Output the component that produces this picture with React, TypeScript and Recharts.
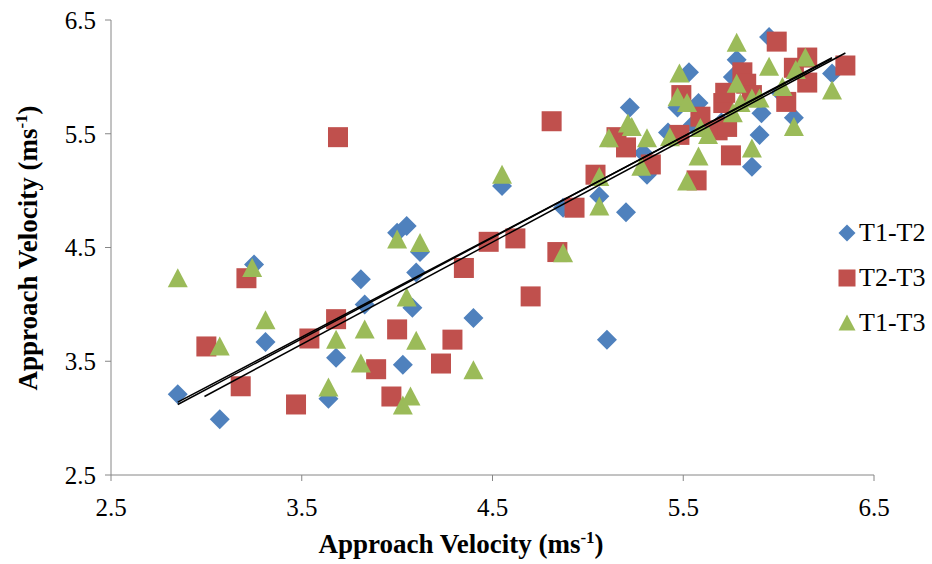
import { ScatterChart, Scatter, XAxis, YAxis, Legend } from 'recharts';

const axisTicks = [2.5, 3.5, 4.5, 5.5, 6.5];

const t1t2X = [2.85, 3.07, 3.25, 3.31, 3.64, 3.68, 3.81, 3.83, 4.0, 4.05, 4.03, 4.08, 4.1, 4.12, 4.4, 4.55, 4.87, 5.06, 5.1, 5.2, 5.22, 5.29, 5.31, 5.42, 5.47, 5.53, 5.58, 5.63, 5.76, 5.78, 5.86, 5.9, 5.91, 5.95, 6.01, 6.08, 6.28, 5.55, 5.7];
const t1t2Y = [3.21, 2.99, 4.35, 3.67, 3.17, 3.53, 4.22, 4.0, 4.63, 4.69, 3.47, 3.97, 4.28, 4.46, 3.88, 5.04, 4.85, 4.95, 3.69, 4.81, 5.73, 5.33, 5.14, 5.51, 5.73, 6.04, 5.77, 5.52, 6.0, 6.15, 5.21, 5.49, 5.68, 6.35, 5.86, 5.64, 6.03, 5.58, 5.6];

const t2t3X = [3.0, 3.18, 3.21, 3.47, 3.54, 3.68, 3.69, 3.89, 3.97, 4.0, 4.23, 4.29, 4.35, 4.48, 4.62, 4.7, 4.81, 4.84, 4.93, 5.04, 5.15, 5.2, 5.33, 5.48, 5.49, 5.57, 5.59, 5.68, 5.71, 5.72, 5.73, 5.75, 5.81, 5.83, 5.86, 5.99, 6.04, 6.08, 6.15, 6.15, 6.35];
const t2t3Y = [3.63, 3.28, 4.23, 3.12, 3.7, 3.87, 5.47, 3.43, 3.19, 3.78, 3.48, 3.69, 4.32, 4.55, 4.58, 4.07, 5.61, 4.46, 4.85, 5.14, 5.47, 5.38, 5.23, 5.49, 5.84, 5.09, 5.65, 5.53, 5.77, 5.86, 5.56, 5.31, 6.04, 5.94, 5.84, 6.31, 5.78, 6.08, 6.17, 5.95, 6.1];

const t1t3X = [2.85, 3.07, 3.24, 3.31, 3.64, 3.68, 3.83, 3.81, 4.0, 4.03, 4.05, 4.07, 4.1, 4.12, 4.4, 4.55, 4.87, 5.06, 5.06, 5.11, 5.21, 5.23, 5.28, 5.31, 5.43, 5.47, 5.48, 5.52, 5.52, 5.58, 5.59, 5.63, 5.76, 5.78, 5.78, 5.8, 5.86, 5.86, 5.9, 5.95, 6.02, 6.08, 6.09, 6.14, 6.28];
const t1t3Y = [4.23, 3.63, 4.32, 3.86, 3.27, 3.69, 3.78, 3.48, 4.57, 3.11, 4.06, 3.19, 3.68, 4.54, 3.42, 5.14, 4.45, 5.12, 4.86, 5.46, 5.59, 5.56, 5.21, 5.46, 5.47, 5.82, 6.03, 5.77, 5.08, 5.3, 5.55, 5.49, 5.68, 6.3, 5.94, 5.77, 5.81, 5.37, 5.81, 6.09, 5.91, 5.56, 6.06, 6.17, 5.88];

// linear trendline end points
const trendT1T2 = [{ x: 2.85, y: 3.12 }, { x: 6.28, y: 6.17 }];
const trendT1T3 = [{ x: 2.85, y: 3.14 }, { x: 6.28, y: 6.16 }];
const trendT2T3 = [{ x: 2.99, y: 3.19 }, { x: 6.35, y: 6.21 }];

const toPoints = (xs: number[], ys: number[]) => xs.map((x, i) => ({ x, y: ys[i] }));

const BLUE = '#4F81BD';
const RED = '#C0504D';
const GREEN = '#9BBB59';
const FONT = '"Liberation Serif", "Times New Roman", serif';

const Diamond = ({ cx, cy, r = 10, fill = BLUE }: any) => (
  <polygon points={`${cx},${cy - r} ${cx + r},${cy} ${cx},${cy + r} ${cx - r},${cy}`} fill={fill} />
);
const Square = ({ cx, cy, r = 10, fill = RED }: any) => (
  <rect x={cx - r} y={cy - r} width={r * 2} height={r * 2} fill={fill} />
);
const Triangle = ({ cx, cy, r = 10, fill = GREEN }: any) => (
  <polygon points={`${cx},${cy - r} ${cx + r},${cy + r - 1} ${cx - r},${cy + r - 1}`} fill={fill} />
);

const legendItems = [
  { name: 'T1-T2', Shape: Diamond, color: BLUE },
  { name: 'T2-T3', Shape: Square, color: RED },
  { name: 'T1-T3', Shape: Triangle, color: GREEN },
];

const LegendContent = () => (
  <div style={{ fontFamily: FONT, fontSize: 26, color: '#000' }}>
    {legendItems.map(({ name, Shape, color }) => (
      <div key={name} style={{ display: 'flex', alignItems: 'center', height: 45 }}>
        <svg width={18} height={18}>
          <Shape cx={9} cy={9} r={8.5} fill={color} />
        </svg>
        <span style={{ marginLeft: 3 }}>{name}</span>
      </div>
    ))}
  </div>
);

const XTitle = () => (
  <text x={461} y={553} textAnchor="middle" fontFamily={FONT} fontSize={27} fontWeight="bold" fill="#000">
    <tspan>Approach Velocity (ms</tspan>
    <tspan dy={-10} fontSize={17}>-1</tspan>
    <tspan dy={10}>)</tspan>
  </text>
);

const YTitle = () => (
  <text x={0} y={0} transform="translate(37,248) rotate(-90)" textAnchor="middle" fontFamily={FONT} fontSize={27} fontWeight="bold" fill="#000">
    <tspan>Approach Velocity (ms</tspan>
    <tspan dy={-10} fontSize={17}>-1</tspan>
    <tspan dy={10}>)</tspan>
  </text>
);

const noDot = () => <g />;
const tickStyle = { fontFamily: FONT, fontSize: 25, fill: '#000' };

export default function App() {
  return (
    <div style={{ position: 'absolute', left: 0, top: 0, background: '#fff' }}>
      <ScatterChart width={932} height={564} margin={{ top: 20, right: 58, bottom: 0, left: 0 }}>
        <XAxis
          type="number"
          dataKey="x"
          domain={[2.5, 6.5]}
          ticks={axisTicks}
          tickFormatter={(v: number) => v.toFixed(1)}
          height={89}
          stroke="#868686"
          tickSize={6}
          tickMargin={17}
          tick={tickStyle}
          label={{ content: XTitle }}
        />
        <YAxis
          type="number"
          dataKey="y"
          domain={[2.5, 6.5]}
          ticks={axisTicks}
          tickFormatter={(v: number) => v.toFixed(1)}
          width={111}
          stroke="#868686"
          tickSize={6}
          tickMargin={9}
          tick={tickStyle}
          label={{ content: YTitle }}
        />
        <Scatter name="T1-T2" data={toPoints(t1t2X, t1t2Y)} shape={Diamond} fill={BLUE} isAnimationActive={false} />
        <Scatter name="T2-T3" data={toPoints(t2t3X, t2t3Y)} shape={Square} fill={RED} isAnimationActive={false} />
        <Scatter name="T1-T3" data={toPoints(t1t3X, t1t3Y)} shape={Triangle} fill={GREEN} isAnimationActive={false} />
        <Scatter data={trendT1T2} line={{ stroke: '#000', strokeWidth: 1.5 }} shape={noDot} legendType="none" isAnimationActive={false} />
        <Scatter data={trendT1T3} line={{ stroke: '#000', strokeWidth: 1.5 }} shape={noDot} legendType="none" isAnimationActive={false} />
        <Scatter data={trendT2T3} line={{ stroke: '#000', strokeWidth: 1.5 }} shape={noDot} legendType="none" isAnimationActive={false} />
        <Legend
          layout="horizontal"
          align="center"
          verticalAlign="middle"
          content={LegendContent}
          wrapperStyle={{ left: 838, top: 210, width: 94, height: 'auto' }}
        />
      </ScatterChart>
    </div>
  );
}
